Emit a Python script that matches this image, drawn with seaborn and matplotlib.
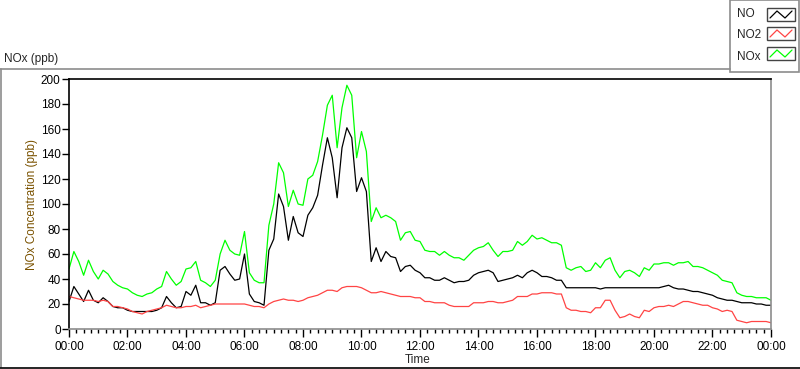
import numpy as np
import pandas as pd
import seaborn as sns
import matplotlib.pyplot as plt
from matplotlib.lines import Line2D
from matplotlib.patches import Rectangle
from matplotlib.ticker import MultipleLocator

# 10-minute samples over one day (hours since midnight)
hours = np.arange(0, 24 * 6 + 1) / 6

no = [
    22, 34, 28, 22, 31, 23, 21, 25, 22, 18, 17, 17,
    15, 14, 14, 14, 14, 14, 15, 17, 26, 21, 17, 18,
    30, 27, 35, 21, 21, 19, 21, 47, 50, 44, 39, 40,
    60, 28, 22, 21, 19, 63, 72, 108, 98, 71, 90, 77,
    74, 91, 97, 107, 131, 153, 137, 105, 145, 161, 153, 110,
    121, 110, 54, 65, 54, 62, 58, 57, 46, 50, 51, 47,
    45, 41, 41, 39, 39, 41, 39, 37, 38, 38, 39, 43,
    45, 46, 47, 45, 38, 39, 40, 41, 43, 41, 45, 47,
    45, 42, 42, 41, 39, 39, 33, 33, 33, 33, 33, 33,
    33, 32, 33, 33, 33, 33, 33, 33, 33, 33, 33, 33,
    33, 33, 34, 35, 33, 32, 32, 31, 30, 30, 29, 28,
    27, 25, 24, 23, 23, 22, 21, 21, 21, 20, 20, 19,
    19,
]
no2 = [
    26, 25, 24, 23, 23, 23, 22, 23, 22, 18, 18, 17,
    16, 14, 13, 12, 14, 15, 16, 17, 19, 18, 17, 17,
    18, 18, 19, 17, 18, 19, 20, 20, 20, 20, 20, 20,
    20, 19, 18, 18, 17, 20, 22, 23, 24, 23, 23, 22,
    23, 25, 26, 27, 29, 31, 31, 30, 33, 34, 34, 34,
    33, 31, 29, 29, 30, 29, 28, 27, 26, 26, 26, 25,
    25, 22, 22, 21, 21, 21, 19, 18, 18, 18, 18, 21,
    21, 21, 22, 22, 21, 21, 22, 23, 26, 26, 26, 28,
    28, 29, 29, 29, 28, 28, 17, 15, 15, 14, 14, 13,
    17, 17, 23, 23, 15, 9, 10, 12, 10, 9, 15, 14,
    17, 18, 18, 19, 18, 20, 22, 22, 21, 20, 19, 19,
    17, 16, 14, 15, 14, 7, 6, 5, 6, 6, 6, 6,
    5,
]
nox = [
    48, 62, 54, 43, 55, 46, 40, 47, 44, 38, 35, 33,
    32, 29, 27, 26, 28, 29, 32, 34, 46, 40, 35, 38,
    48, 49, 54, 39, 37, 34, 39, 60, 71, 63, 60, 59,
    78, 45, 39, 37, 37, 83, 100, 133, 125, 98, 111, 100,
    99, 120, 123, 134, 155, 179, 187, 145, 177, 195, 187, 137,
    158, 142, 86, 97, 89, 91, 89, 86, 71, 77, 78, 71,
    70, 63, 62, 62, 59, 62, 59, 57, 57, 55, 59, 63,
    65, 66, 69, 63, 58, 62, 62, 63, 70, 67, 70, 75,
    72, 73, 71, 69, 69, 67, 49, 47, 49, 50, 46, 47,
    53, 49, 55, 57, 47, 41, 46, 47, 45, 42, 49, 47,
    52, 52, 53, 53, 51, 53, 53, 54, 50, 50, 49, 47,
    45, 43, 39, 38, 37, 29, 27, 26, 26, 25, 25, 25,
    23,
]

series_names = ['NO', 'NO2', 'NOx']
series_colors = ['#000000', '#ff4444', '#00ff00']
time_labels = ['00:00', '02:00', '04:00', '06:00', '08:00', '10:00', '12:00',
               '14:00', '16:00', '18:00', '20:00', '22:00', '00:00']

df = pd.DataFrame({
    'hour': np.tile(hours, 3),
    'value': no + no2 + nox,
    'series': np.repeat(series_names, len(hours)),
})

sns.set_style('ticks')
plt.rcParams['font.family'] = ['Liberation Sans', 'DejaVu Sans']
plt.rcParams['font.size'] = 8.5

W, H = 800, 369
fig = plt.figure(figsize=(W / 100, H / 100), dpi=100)
ax = fig.add_axes([69 / W, 1 - 329 / H, 702 / W, 250 / H])

sns.lineplot(data=df, x='hour', y='value', hue='series', hue_order=series_names,
             palette=dict(zip(series_names, series_colors)), linewidth=0.9,
             estimator=None, legend=False, ax=ax)

ax.set_xlim(0, 24)
ax.set_ylim(0, 200)
ax.xaxis.set_minor_locator(MultipleLocator(0.25))
ax.set_xticks(np.arange(0, 25, 2))
ax.set_xticklabels(time_labels)
ax.yaxis.set_major_locator(MultipleLocator(20))
ax.tick_params(axis='x', which='major', length=6, width=1, pad=3, color='black')
ax.tick_params(axis='x', which='minor', length=3, width=1, color='black')
ax.tick_params(axis='y', which='major', length=5, width=1, pad=1, color='black')
ax.tick_params(labelsize=8.5, labelcolor='black')

for side in ['top', 'left']:
    ax.spines[side].set_visible(True)
    ax.spines[side].set_color('black')
    ax.spines[side].set_linewidth(1.2)
for side in ['right', 'bottom']:
    ax.spines[side].set_visible(True)
    ax.spines[side].set_color('#8c8c8c')
    ax.spines[side].set_linewidth(1.2)

ax.set_xlabel('Time', fontsize=8.5)
ax.xaxis.set_label_coords((418 - 69) / 702, (329 - 354) / 250)
ax.set_ylabel('NOx Concentration (ppb)', fontsize=8.5, color='#7a5200')
ax.yaxis.set_label_coords((38 - 69) / 702, 0.5)

# outer panel frame
def fx(px):
    return px / W

def fy(py):
    return 1 - py / H

fig.add_artist(Line2D([fx(0), fx(730)], [fy(69), fy(69)], color='#8c8c8c', lw=1.2))
fig.add_artist(Line2D([fx(0.6), fx(0.6)], [fy(69), fy(367)], color='#8c8c8c', lw=1.2))
fig.add_artist(Line2D([fx(0), fx(800)], [fy(367.5), fy(367.5)], color='black', lw=1.2))
fig.text(fx(4), fy(59), 'NOx (ppb)', fontsize=8.5, va='center', ha='left')

# legend panel
fig.add_artist(Rectangle((fx(730), fy(72)), fx(69.4), fy(0) - fy(72),
                         facecolor='white', edgecolor='#8c8c8c', lw=1.2))
text_y = [14, 35, 57]
box_y = [8, 27, 47]
for name, color, ty, by in zip(series_names, series_colors, text_y, box_y):
    fig.text(fx(737), fy(ty), name, fontsize=8.5, va='center', ha='left')
    fig.add_artist(Rectangle((fx(767), fy(by + 13)), fx(28), fy(by) - fy(by + 13),
                             facecolor='white', edgecolor='#444444', lw=1))
    zx = [770, 777, 785, 792]
    zy = [by + 10, by + 3, by + 10, by + 3]
    fig.add_artist(Line2D([fx(v) for v in zx], [fy(v) for v in zy], color=color, lw=0.9))

fig.savefig('out.png', dpi=100)
